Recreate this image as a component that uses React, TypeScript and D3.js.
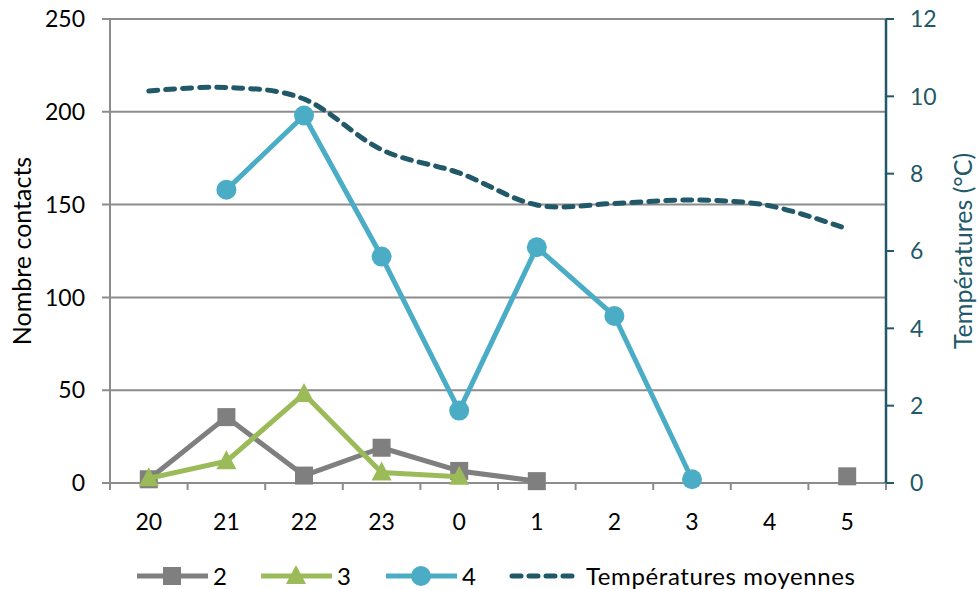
import * as d3 from 'd3';
import React from 'react';

const hours = ['20', '21', '22', '23', '0', '1', '2', '3', '4', '5'];
const serie2: (number | null)[] = [2, 35.5, 4, 19, 6.5, 1, null, null, null, 3.6];
const serie3: (number | null)[] = [2.5, 11.7, 48, 5.7, 3.4, null, null, null, null, null];
const serie4: (number | null)[] = [null, 158, 198, 122, 39, 127, 90, 2, null, null];
const tempMoy: number[] = [10.14, 10.23, 9.93, 8.62, 8.02, 7.19, 7.23, 7.32, 7.17, 6.57];
const leftTicks = [0, 50, 100, 150, 200, 250];
const rightTicks = [0, 2, 4, 6, 8, 10, 12];

const W = 977, H = 589;
const margin = { top: 19, right: 91, bottom: 106, left: 110 };
const FONT = 'Lato, "Open Sans", sans-serif';
const GRID = '#8c8c8c';
const TEAL = '#215968';
const colors = { s2: '#7f7f7f', s3: '#9bbb59', s4: '#4bacc6' };

const Marker = ({ kind, x, y, color }: { kind: string; x: number; y: number; color: string }) => {
  if (kind === 'square') return <rect x={x - 9} y={y - 9} width={18} height={18} fill={color} />;
  if (kind === 'triangle')
    return <path d={`M${x},${y - 11}L${x + 10},${y + 8}L${x - 10},${y + 8}Z`} fill={color} />;
  return <circle cx={x} cy={y} r={10} fill={color} />;
};

export default function App() {
  const x = d3.scaleBand<string>().domain(hours).range([margin.left, W - margin.right]).padding(0);
  const y = d3.scaleLinear().domain([0, 250]).range([H - margin.bottom, margin.top]);
  const yT = d3.scaleLinear().domain([0, 12]).range([H - margin.bottom, margin.top]);
  const cx = (h: string) => (x(h) as number) + x.bandwidth() / 2;

  const line = d3
    .line<number | null>()
    .defined((d) => d !== null)
    .x((_, i) => cx(hours[i]))
    .y((d) => y(d as number));
  const tempLine = d3
    .line<number>()
    .x((_, i) => cx(hours[i]))
    .y((d) => yT(d))
    .curve(d3.curveCardinal.tension(0));

  const series = [
    { name: '2', data: serie2, color: colors.s2, kind: 'square' },
    { name: '3', data: serie3, color: colors.s3, kind: 'triangle' },
    { name: '4', data: serie4, color: colors.s4, kind: 'circle' },
  ];
  const bottom = H - margin.bottom;
  const left = margin.left, right = W - margin.right;
  const boundaries = d3.range(hours.length + 1).map((i) => left + i * x.bandwidth());
  const midY = (margin.top + bottom) / 2;

  const legendY = 576;
  const legendItems = [
    { x0: 137, label: '2', color: colors.s2, kind: 'square' },
    { x0: 261, label: '3', color: colors.s3, kind: 'triangle' },
    { x0: 386, label: '4', color: colors.s4, kind: 'circle' },
  ];

  return (
    <svg width={W} height={H} style={{ position: 'absolute', left: 0, top: 0, background: '#fff' }} fontFamily={FONT}>
      {/* grid */}
      {leftTicks.map((t) => (
        <line key={t} x1={left - 8} x2={right} y1={y(t)} y2={y(t)} stroke={GRID} strokeWidth={2} />
      ))}
      <line x1={left} x2={left} y1={margin.top} y2={bottom} stroke={GRID} strokeWidth={2} />
      {boundaries.map((b, i) => (
        <line key={i} x1={b} x2={b} y1={bottom} y2={bottom + 7} stroke={GRID} strokeWidth={2} />
      ))}
      {/* right axis */}
      <line x1={right} x2={right} y1={margin.top} y2={bottom} stroke={TEAL} strokeWidth={2.5} />
      {rightTicks.map((t) => (
        <g key={t}>
          <line x1={right} x2={right + 8} y1={yT(t)} y2={yT(t)} stroke={TEAL} strokeWidth={2} />
          <text x={right + 24} y={yT(t)} dy="0.36em" textAnchor="start" fontSize={23} fill={TEAL}>
            {t}
          </text>
        </g>
      ))}
      {leftTicks.map((t) => (
        <text key={t} x={left - 25} y={y(t)} dy="0.36em" textAnchor="end" fontSize={23} fill="#000">
          {t}
        </text>
      ))}
      {hours.map((h) => (
        <text key={h} x={cx(h)} y={bottom + 39} dy="0.36em" textAnchor="middle" fontSize={23} fill="#000">
          {h}
        </text>
      ))}
      <text transform={`translate(22,${midY}) rotate(-90)`} textAnchor="middle" dy="0.36em" fontSize={25} fill="#000">
        Nombre contacts
      </text>
      <text transform={`translate(963,${midY}) rotate(-90)`} textAnchor="middle" dy="0.36em" fontSize={25} fill={TEAL}>
        Températures (°C)
      </text>

      {/* temperature */}
      <path d={tempLine(tempMoy) || ''} fill="none" stroke={TEAL} strokeWidth={5} strokeDasharray="9 8" strokeLinecap="round" />

      {/* series */}
      {series.map((s) => (
        <g key={s.name}>
          <path d={line(s.data) || ''} fill="none" stroke={s.color} strokeWidth={5} strokeLinejoin="round" />
          {s.data.map((d, i) =>
            d === null ? null : <Marker key={i} kind={s.kind} x={cx(hours[i])} y={y(d)} color={s.color} />
          )}
        </g>
      ))}

      {/* legend */}
      {legendItems.map((l) => (
        <g key={l.label}>
          <line x1={l.x0} x2={l.x0 + 71} y1={legendY} y2={legendY} stroke={l.color} strokeWidth={5} />
          <Marker kind={l.kind} x={l.x0 + 35} y={legendY} color={l.color} />
          <text x={l.x0 + 76} y={legendY} dy="0.36em" fontSize={24} fill="#000">
            {l.label}
          </text>
        </g>
      ))}
      <line x1={512} x2={580} y1={legendY} y2={legendY} stroke={TEAL} strokeWidth={5} strokeDasharray="9 8" strokeLinecap="round" />
      <text x={586} y={legendY} dy="0.36em" fontSize={24} fill="#000" textLength={269} lengthAdjust="spacing">
        Températures moyennes
      </text>
    </svg>
  );
}
